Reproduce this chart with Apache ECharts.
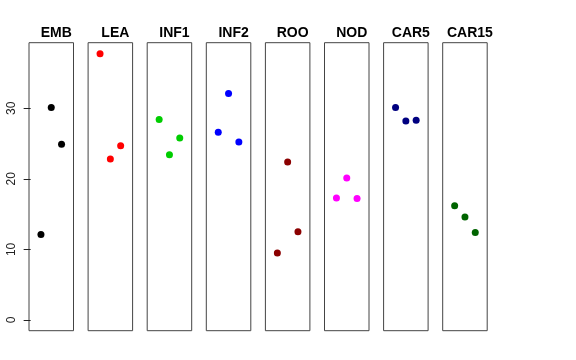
<!DOCTYPE html>
<html><head><meta charset="utf-8">
<script src="https://cdn.jsdelivr.net/npm/echarts@6/dist/echarts.min.js"></script>
<style>html,body{margin:0;padding:0;background:#fff}#c{width:576px;height:360px}</style>
</head><body><div id="c"></div>
<script>
var panels = ["EMB","LEA","INF1","INF2","ROO","NOD","CAR5","CAR15"];
var colors = ["#000000","#ff0000","#00cd00","#0000ff","#8b0000","#ff00ff","#000080","#006400"];
var xPos = [1,2,3];
var valEMB = [12.1, 30.1, 24.9];
var valLEA = [37.7, 22.8, 24.7];
var valINF1 = [28.4, 23.4, 25.8];
var valINF2 = [26.6, 32.1, 25.2];
var valROO = [9.5, 22.4, 12.5];
var valNOD = [17.3, 20.1, 17.2];
var valCAR5 = [30.1, 28.2, 28.3];
var valCAR15 = [16.2, 14.6, 12.4];
var yTicks = [0,10,20,30];
var allVals = [valEMB,valLEA,valINF1,valINF2,valROO,valNOD,valCAR5,valCAR15];

(function(){
var yMaxData = 37.77, yMinData = 0;
var ext = (yMaxData - yMinData)*0.04;
var yMin = yMinData - ext, yMax = yMaxData + ext;
var xMin = -0.16, xMax = 4.16;

var grids=[],xAxes=[],yAxes=[],series=[],titles=[];
var left0 = 29, step = 59.1, w = 44.5, gTop = 42.7, h = 288;
for (var i=0;i<panels.length;i++){
  var L = left0 + step*i;
  grids.push({left:L, top:gTop, width:w, height:h, show:true, borderColor:'#444', borderWidth:1, backgroundColor:'transparent'});
  xAxes.push({type:'value', gridIndex:i, min:xMin, max:xMax, show:false});
  yAxes.push({type:'value', gridIndex:i, min:yMin, max:yMax, show:i===0,
    axisLine:{show:false}, splitLine:{show:false},
    axisTick:{show:true, length:7, lineStyle:{color:'#222'}, customValues:yTicks},
    axisLabel:{show:true, rotate:90, margin:11, fontSize:12, color:'#222', fontFamily:'Liberation Sans, Arial, sans-serif', customValues:yTicks,
      formatter:function(v){return String(v);} }
  });
  series.push({type:'scatter', xAxisIndex:i, yAxisIndex:i, symbol:'circle', symbolSize:7,
    itemStyle:{color:colors[i], opacity:1}, silent:true,
    data: xPos.map(function(x,j){return [x, allVals[i][j]];})});
  titles.push({text:panels[i], left:L + w/2, top:21, textAlign:'center',
    textStyle:{fontSize:14, fontWeight:'bold', color:'#000', fontFamily:'Liberation Sans, Arial, sans-serif'}});
}
var chart = echarts.init(document.getElementById('c'), null, {renderer:'canvas'});
chart.setOption({animation:false, title:titles, grid:grids, xAxis:xAxes, yAxis:yAxes, series:series});
})();
</script>
</body></html>
